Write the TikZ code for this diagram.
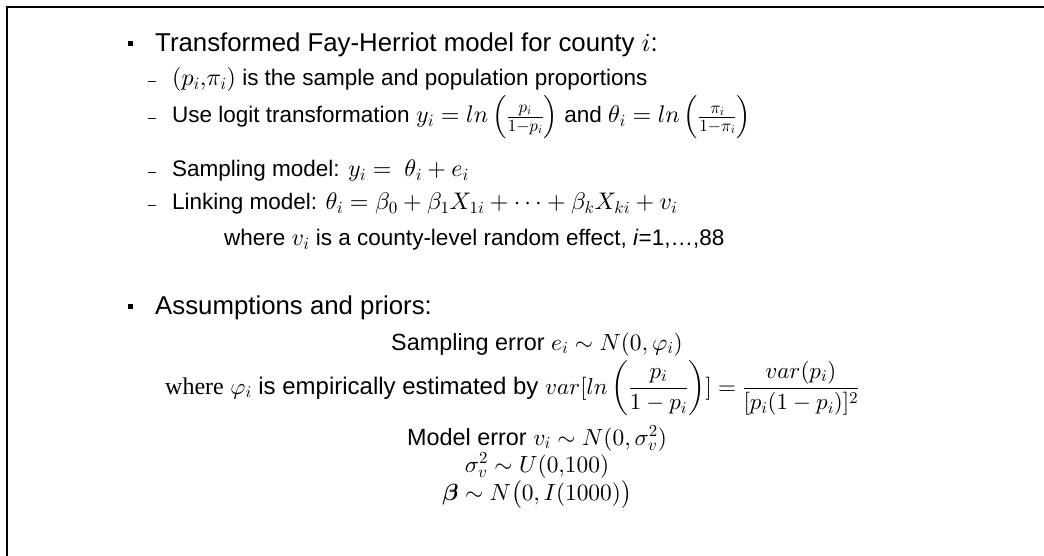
\RequirePackage{fix-cm}
\documentclass[tikz,border=0pt]{standalone}
\usepackage{amsmath}
\usepackage{fontspec}
\setmainfont{Liberation Sans}
\newfontfamily\seriffont{Liberation Serif}
\DeclareFontFamily{OML}{cmm}{\skewchar\font127}
\DeclareFontShape{OML}{cmm}{m}{it}{<-> cmmi10}{}
\DeclareFontShape{OML}{cmm}{b}{it}{<-> cmmib10}{}
\DeclareFontFamily{OMS}{cmsy}{\skewchar\font48}
\DeclareFontShape{OMS}{cmsy}{m}{n}{<-> cmsy10}{}
\DeclareFontShape{OMS}{cmsy}{b}{n}{<-> cmbsy10}{}
\DeclareFontFamily{OMX}{cmex}{}
\DeclareFontShape{OMX}{cmex}{m}{n}{<-> cmex10}{}
\DeclareFontFamily{OT1}{cmr}{\hyphenchar\font45}
\DeclareFontShape{OT1}{cmr}{m}{n}{<-> cmr10}{}
\DeclareFontShape{OT1}{cmr}{bx}{n}{<-> cmbx10}{}
\DeclareFontShape{OT1}{cmr}{m}{it}{<-> cmti10}{}
\DeclareMathSizes{25.8}{26}{18.5}{13}
\DeclareMathSizes{22.5}{24}{17}{12}
\DeclareMathSizes{23.4}{23.4}{16.8}{12}
\DeclareMathSizes{24}{23}{16.5}{12}
\begin{document}
\begin{tikzpicture}[x=1pt,y=-1pt,
  main/.style={anchor=base west,inner sep=0pt,font=\fontsize{25.8}{30}\selectfont},
  sub/.style={anchor=base west,inner sep=0pt,font=\fontsize{22.5}{27}\selectfont},
  ctr/.style={anchor=base,inner sep=0pt,font=\fontsize{23.4}{27}\selectfont},
  low/.style={anchor=base west,inner sep=0pt,font=\fontsize{24}{28}\selectfont},
  dsh/.style={anchor=base west,inner sep=0pt,font=\fontsize{14}{16}\selectfont},
  sq/.style={fill=black,inner sep=0pt,minimum size=5pt},
  frame/.style={line width=2.5pt}]
\useasboundingbox (0,0) rectangle (1044,556);
\coordinate (fb) at (7,556);
\coordinate (fc) at (7,7);
\coordinate (fr) at (1044,7);
\draw[frame] (fb) -- (fc) -- (fr);
% first bullet
\node[sq] (b1) at (130,44) {};
\node[main] (t1) at (155,52) {Transformed Fay-Herriot model for county $i$:};
\node[dsh] (d2) at (148,86) {–};
\node[sub] (t2) at (172,86) {$(p_i,\!\pi_i)$ is the sample and population proportions};
\node[dsh] (d3) at (148,123) {–};
\node[sub] (t3) at (172,123) {Use logit transformation $y_i = ln\left(\tfrac{p_i}{1-p_i}\right)$ and $\theta_i = ln\left(\tfrac{\pi_i}{1-\pi_i}\right)$};
\node[dsh] (d4) at (148,177) {–};
\node[sub] (t4) at (172,177) {Sampling model: $y_i =\ \theta_i + e_i$};
\node[dsh] (d5) at (148,210) {–};
\node[sub] (t5) at (172,210) {Linking model: $\theta_i = \beta_0 + \beta_1 X_{1i} + \cdots + \beta_k X_{ki} + v_i$};
\node[sub] (t6) at (224,246) {where $v_i$ is a county-level random effect, \textit{i}=1,…,88};
% second bullet
\node[sq] (b2) at (130,306) {};
\node[main] (t7) at (155,314) {Assumptions and priors:};
\node[ctr] (t8) at (537,350) {Sampling error $e_i \sim N(0,\varphi_i)$};
\node[low] (t9) at (165,394) {{\seriffont where} $\varphi_i$ is empirically estimated by $var[ln\left(\dfrac{p_i}{1-p_i}\right)] = \dfrac{var(p_i)}{[p_i(1-p_i)]^2}$};
\node[ctr] (t10) at (537,445) {Model error $v_i \sim N(0,\sigma_v^2)$};
\node[ctr] (t11) at (537,472) {$\sigma_v^2 \sim U(0{,}100)$};
\node[ctr] (t12) at (537,500) {$\boldsymbol{\beta} \sim N\big(0,I(1000)\big)$};
\end{tikzpicture}
\end{document}
